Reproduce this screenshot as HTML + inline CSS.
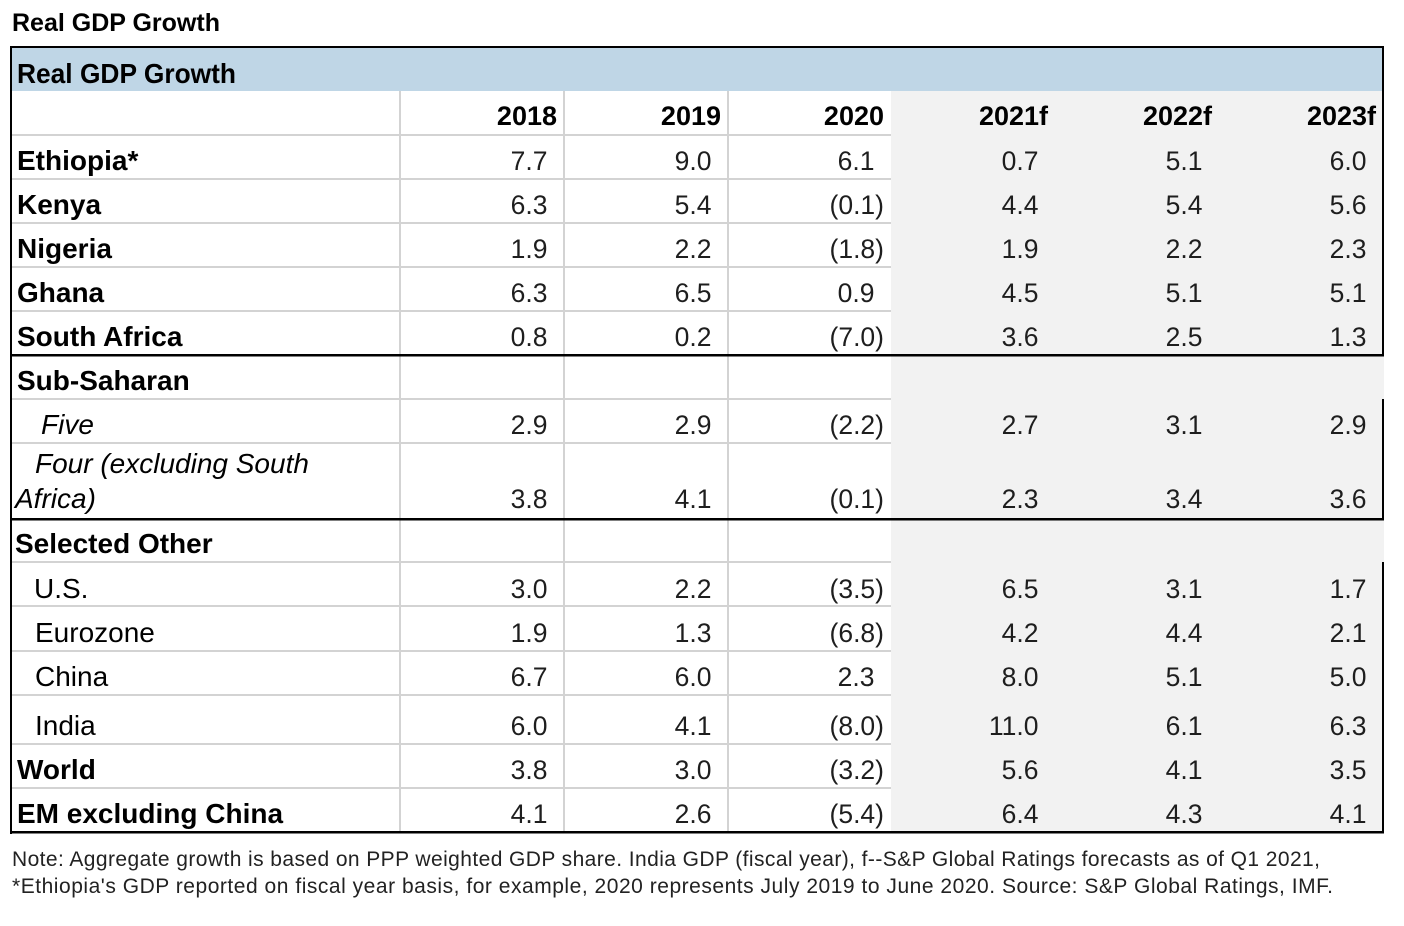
<!DOCTYPE html>
<html>
<head>
<meta charset="utf-8">
<style>
  html,body{margin:0;padding:0;background:#fff;}
  svg{display:block;}
  text{font-family:"Liberation Sans", Arial, sans-serif;}
  .b{font-weight:bold;fill:#000;}
  .l{font-size:28px;fill:#000;}
  .n{font-size:26.5px;fill:#1e1e1e;text-anchor:end;}
  .y{font-size:27px;font-weight:bold;fill:#000;text-anchor:end;}
  .i{font-style:italic;}
  .f{font-size:21px;fill:#222;}
</style>
</head>
<body>
<svg width="1404" height="926" viewBox="0 0 1404 926" xmlns="http://www.w3.org/2000/svg" shape-rendering="crispEdges">
  <rect x="0" y="0" width="1404" height="926" fill="#fff"/>
  <!-- title -->
  <text x="12" y="31" class="b" font-size="25" textLength="208" lengthAdjust="spacingAndGlyphs">Real GDP Growth</text>

  <!-- blue header -->
  <rect x="12" y="48" width="1371" height="43" fill="#bfd6e6"/>
  <!-- gray forecast area -->
  <rect x="891" y="91" width="493" height="741" fill="#f2f2f2"/>

  <!-- light horizontal gridlines -->
  <g fill="#d3d3d3">
    <rect x="12" y="134" width="879" height="2"/>
    <rect x="12" y="178" width="879" height="2"/>
    <rect x="12" y="222" width="879" height="2"/>
    <rect x="12" y="266" width="879" height="2"/>
    <rect x="12" y="310" width="879" height="2"/>
    <rect x="12" y="398" width="879" height="2"/>
    <rect x="12" y="442" width="879" height="2"/>
    <rect x="12" y="561" width="879" height="2"/>
    <rect x="12" y="605" width="879" height="2"/>
    <rect x="12" y="650" width="879" height="2"/>
    <rect x="12" y="694" width="879" height="2"/>
    <rect x="12" y="743" width="879" height="2"/>
    <rect x="12" y="787" width="879" height="2"/>
    <!-- vertical -->
    <rect x="399" y="91" width="2" height="741"/>
    <rect x="563" y="91" width="2" height="741"/>
    <rect x="727" y="91" width="2" height="741"/>
  </g>

  <!-- black borders -->
  <g fill="#000">
    <rect x="10" y="46" width="1374" height="2"/>
    <rect x="10" y="46" width="2" height="788"/>
    <rect x="10" y="831" width="1374" height="2.5"/>
    <rect x="10" y="354" width="1374" height="2.5"/>
    <rect x="10" y="518" width="1374" height="2.5"/>
    <rect x="1382" y="46" width="2" height="310"/>
    <rect x="1382" y="399" width="2" height="121"/>
    <rect x="1382" y="562" width="2" height="271"/>
  </g>

  <!-- header text -->
  <text x="17" y="83" class="b" font-size="28" textLength="219" lengthAdjust="spacingAndGlyphs">Real GDP Growth</text>

  <!-- years -->
  <text class="y" x="557" y="125">2018</text>
  <text class="y" x="721" y="125">2019</text>
  <text class="y" x="884" y="125">2020</text>
  <text class="y" x="1048" y="125">2021f</text>
  <text class="y" x="1212" y="125">2022f</text>
  <text class="y" x="1376" y="125">2023f</text>

  <!-- labels -->
  <text class="l b" x="17" y="170">Ethiopia*</text>
  <text class="l b" x="17" y="214">Kenya</text>
  <text class="l b" x="17" y="258">Nigeria</text>
  <text class="l b" x="17" y="302">Ghana</text>
  <text class="l b" x="17" y="346">South Africa</text>
  <text class="l b" x="17" y="390">Sub-Saharan</text>
  <text class="l i" x="41" y="434">Five</text>
  <text class="l i" x="35" y="473">Four (excluding South</text>
  <text class="l i" x="15" y="508">Africa)</text>
  <text class="l b" x="15" y="553">Selected Other</text>
  <text class="l" x="34" y="598">U.S.</text>
  <text class="l" x="35" y="642">Eurozone</text>
  <text class="l" x="35" y="686">China</text>
  <text class="l" x="35" y="735">India</text>
  <text class="l b" x="17" y="779">World</text>
  <text class="l b" x="17" y="823">EM excluding China</text>

  <!-- Ethiopia -->
  <text class="n" x="547.5" y="170">7.7</text>
  <text class="n" x="711.5" y="170">9.0</text>
  <text class="n" x="874.5" y="170">6.1</text>
  <text class="n" x="1038.5" y="170">0.7</text>
  <text class="n" x="1202.5" y="170">5.1</text>
  <text class="n" x="1366.5" y="170">6.0</text>
  <!-- Kenya -->
  <text class="n" x="547.5" y="214">6.3</text>
  <text class="n" x="711.5" y="214">5.4</text>
  <text class="n" x="884" y="214">(0.1)</text>
  <text class="n" x="1038.5" y="214">4.4</text>
  <text class="n" x="1202.5" y="214">5.4</text>
  <text class="n" x="1366.5" y="214">5.6</text>
  <!-- Nigeria -->
  <text class="n" x="547.5" y="258">1.9</text>
  <text class="n" x="711.5" y="258">2.2</text>
  <text class="n" x="884" y="258">(1.8)</text>
  <text class="n" x="1038.5" y="258">1.9</text>
  <text class="n" x="1202.5" y="258">2.2</text>
  <text class="n" x="1366.5" y="258">2.3</text>
  <!-- Ghana -->
  <text class="n" x="547.5" y="302">6.3</text>
  <text class="n" x="711.5" y="302">6.5</text>
  <text class="n" x="874.5" y="302">0.9</text>
  <text class="n" x="1038.5" y="302">4.5</text>
  <text class="n" x="1202.5" y="302">5.1</text>
  <text class="n" x="1366.5" y="302">5.1</text>
  <!-- South Africa -->
  <text class="n" x="547.5" y="346">0.8</text>
  <text class="n" x="711.5" y="346">0.2</text>
  <text class="n" x="884" y="346">(7.0)</text>
  <text class="n" x="1038.5" y="346">3.6</text>
  <text class="n" x="1202.5" y="346">2.5</text>
  <text class="n" x="1366.5" y="346">1.3</text>
  <!-- Five -->
  <text class="n" x="547.5" y="434">2.9</text>
  <text class="n" x="711.5" y="434">2.9</text>
  <text class="n" x="884" y="434">(2.2)</text>
  <text class="n" x="1038.5" y="434">2.7</text>
  <text class="n" x="1202.5" y="434">3.1</text>
  <text class="n" x="1366.5" y="434">2.9</text>
  <!-- Four -->
  <text class="n" x="547.5" y="508">3.8</text>
  <text class="n" x="711.5" y="508">4.1</text>
  <text class="n" x="884" y="508">(0.1)</text>
  <text class="n" x="1038.5" y="508">2.3</text>
  <text class="n" x="1202.5" y="508">3.4</text>
  <text class="n" x="1366.5" y="508">3.6</text>
  <!-- U.S. -->
  <text class="n" x="547.5" y="598">3.0</text>
  <text class="n" x="711.5" y="598">2.2</text>
  <text class="n" x="884" y="598">(3.5)</text>
  <text class="n" x="1038.5" y="598">6.5</text>
  <text class="n" x="1202.5" y="598">3.1</text>
  <text class="n" x="1366.5" y="598">1.7</text>
  <!-- Eurozone -->
  <text class="n" x="547.5" y="642">1.9</text>
  <text class="n" x="711.5" y="642">1.3</text>
  <text class="n" x="884" y="642">(6.8)</text>
  <text class="n" x="1038.5" y="642">4.2</text>
  <text class="n" x="1202.5" y="642">4.4</text>
  <text class="n" x="1366.5" y="642">2.1</text>
  <!-- China -->
  <text class="n" x="547.5" y="686">6.7</text>
  <text class="n" x="711.5" y="686">6.0</text>
  <text class="n" x="874.5" y="686">2.3</text>
  <text class="n" x="1038.5" y="686">8.0</text>
  <text class="n" x="1202.5" y="686">5.1</text>
  <text class="n" x="1366.5" y="686">5.0</text>
  <!-- India -->
  <text class="n" x="547.5" y="735">6.0</text>
  <text class="n" x="711.5" y="735">4.1</text>
  <text class="n" x="884" y="735">(8.0)</text>
  <text class="n" x="1038.5" y="735">11.0</text>
  <text class="n" x="1202.5" y="735">6.1</text>
  <text class="n" x="1366.5" y="735">6.3</text>
  <!-- World -->
  <text class="n" x="547.5" y="779">3.8</text>
  <text class="n" x="711.5" y="779">3.0</text>
  <text class="n" x="884" y="779">(3.2)</text>
  <text class="n" x="1038.5" y="779">5.6</text>
  <text class="n" x="1202.5" y="779">4.1</text>
  <text class="n" x="1366.5" y="779">3.5</text>
  <!-- EM excluding China -->
  <text class="n" x="547.5" y="823">4.1</text>
  <text class="n" x="711.5" y="823">2.6</text>
  <text class="n" x="884" y="823">(5.4)</text>
  <text class="n" x="1038.5" y="823">6.4</text>
  <text class="n" x="1202.5" y="823">4.3</text>
  <text class="n" x="1366.5" y="823">4.1</text>

  <!-- footnote -->
  <text class="f" x="12" y="866" textLength="1308" lengthAdjust="spacing">Note: Aggregate growth is based on PPP weighted GDP share. India GDP (fiscal year), f--S&amp;P Global Ratings forecasts as of Q1 2021,</text>
  <text class="f" x="12" y="893" textLength="1321" lengthAdjust="spacing">*Ethiopia's GDP reported on fiscal year basis, for example, 2020 represents July 2019 to June 2020. Source: S&amp;P Global Ratings, IMF.</text>
</svg>
</body>
</html>
